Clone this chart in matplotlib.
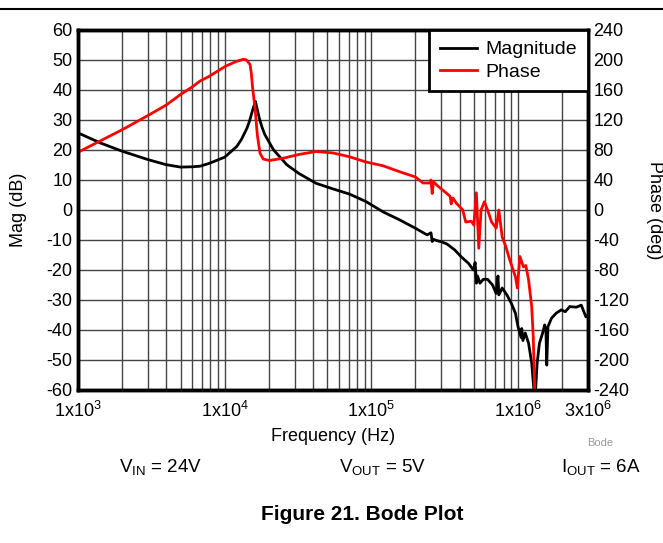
import matplotlib
matplotlib.use("Agg")
import matplotlib.pyplot as plt
from matplotlib.lines import Line2D
from matplotlib.ticker import FixedLocator, LogLocator, NullFormatter

plt.rcParams['font.family'] = ['Liberation Sans', 'DejaVu Sans']
plt.rcParams['mathtext.fontset'] = 'custom'
plt.rcParams['mathtext.rm'] = 'Liberation Sans'
plt.rcParams['mathtext.it'] = 'Liberation Sans:italic'
plt.rcParams['axes.unicode_minus'] = False

# magnitude (dB)
mag_freq = [1.0e3, 1.43e3, 2.0e3, 3.0e3, 4.0e3, 5.0e3, 6.0e3, 6.8e3, 7.8e3, 1.0e4,
            1.21e4, 1.3e4, 1.42e4, 1.48e4, 1.53e4, 1.58e4, 1.62e4, 1.66e4, 1.72e4,
            1.8e4, 1.88e4, 2.15e4, 2.65e4, 3.2e4,
            4.2e4, 5.5e4, 7.1e4, 9.2e4, 1.2e5, 1.56e5, 2.0e5, 2.4e5, 2.55e5, 2.6e5,
            2.65e5, 2.8e5, 3.0e5, 3.27e5, 3.7e5, 4.1e5, 4.6e5, 4.96e5, 5.1e5, 5.2e5,
            5.3e5, 5.5e5, 5.8e5, 6.2e5, 6.7e5, 7.1e5, 7.3e5, 7.4e5, 7.8e5, 8.4e5,
            9.0e5, 9.6e5, 1.0e6, 1.05e6, 1.06e6, 1.08e6, 1.12e6, 1.18e6, 1.24e6,
            1.28e6, 1.32e6, 1.35e6, 1.4e6, 1.47e6, 1.52e6, 1.55e6, 1.57e6, 1.6e6,
            1.69e6, 1.82e6, 1.97e6, 2.1e6, 2.25e6, 2.5e6, 2.7e6, 2.9e6, 3.0e6]
mag_db = [25.7, 22.3, 19.6, 16.8, 15.1, 14.3, 14.4, 14.6, 15.5, 17.6,
          21.2, 23.5, 27.3, 29.8, 32.3, 34.6, 36.2, 34.0, 30.7,
          27.5, 25.1, 20.1, 15.1, 12.2,
          8.9, 7.0, 5.3, 2.8, -0.6, -3.3, -6.1, -8.3, -7.6, -10.5,
          -9.8, -10.2, -10.6, -11.3, -13.3, -15.6, -17.8, -20.0, -17.5, -24.4,
          -22.0, -24.4, -23.1, -23.1, -25.0, -27.8, -22.0, -28.3, -26.0, -28.3,
          -31.1, -34.4, -38.9, -42.5, -39.5, -43.5, -41.0, -44.4, -51.1,
          -59.4, -59.4, -51.0, -44.4, -41.1, -38.3, -40.0, -51.7, -38.9,
          -36.1, -34.4, -33.3, -33.9, -32.2, -32.4, -31.7, -35.6, -35.0]

# phase (deg)
ph_freq = [1.0e3, 2.0e3, 3.0e3, 4.0e3, 5.0e3, 6.0e3, 6.8e3, 7.8e3, 1.02e4, 1.2e4,
           1.34e4, 1.41e4, 1.49e4, 1.52e4, 1.55e4, 1.61e4, 1.67e4, 1.74e4, 1.83e4,
           2.02e4, 2.5e4,
           3.2e4, 4.2e4, 5.5e4, 7.1e4, 9.2e4, 1.2e5, 1.56e5, 2.0e5, 2.25e5, 2.5e5,
           2.55e5, 2.6e5, 2.65e5, 2.8e5, 3.27e5, 3.45e5, 3.5e5, 3.6e5, 3.8e5,
           4.2e5, 4.4e5, 4.8e5, 5.0e5, 5.2e5, 5.4e5, 5.6e5, 5.9e5, 6.2e5, 6.6e5,
           7.1e5, 7.4e5, 7.8e5, 8.2e5, 8.8e5, 9.6e5, 9.9e5, 1.03e6, 1.09e6, 1.13e6,
           1.18e6, 1.24e6, 1.27e6, 1.3e6]
ph_deg = [77, 107, 126, 140, 154, 164, 172, 178, 192, 198,
          201, 200, 194, 182, 163, 136, 100, 76, 68,
          66, 69,
          74, 78, 76, 71, 64, 59, 51, 44, 36, 36,
          40, 22, 38, 33, 22, 18, 8, 16, 9,
          0, -16, -15, -20, 23, -51, 0, 11, 0, -16,
          -24, 0, -36, -47, -67, -89, -104, -62, -76, -74,
          -93, -129, -169, -240]

xticks = [1e3, 1e4, 1e5, 1e6, 3e6]
xticklabels = ['1x10$^3$', '1x10$^4$', '1x10$^5$', '1x10$^6$', '3x10$^6$']
mag_ticks = list(range(-60, 61, 10))
ph_ticks = list(range(-240, 241, 40))

fig = plt.figure(figsize=(6.63, 5.43), dpi=100)
ax = fig.add_axes([78 / 663, 1 - 390 / 543, 510 / 663, 360 / 543])

ax.set_xscale('log')
ax.set_xlim(1e3, 3e6)
ax.set_ylim(-60, 60)
ax.xaxis.set_major_locator(FixedLocator(xticks))
ax.set_xticklabels(xticklabels)
ax.xaxis.set_minor_locator(LogLocator(base=10, subs=range(2, 10), numticks=20))
ax.xaxis.set_minor_formatter(NullFormatter())
ax.set_yticks(mag_ticks)
ax.grid(True, which='both', axis='x', color='#444444', lw=1.0)
ax.grid(True, which='major', axis='y', color='#444444', lw=1.0)
ax.tick_params(which='both', length=0, labelsize=13, pad=4)
ax.tick_params(axis='x', pad=8)
for s in ax.spines.values():
    s.set_linewidth(2.5)

l1, = ax.plot(mag_freq, mag_db, color='black', lw=2, label='Magnitude')

ax2 = ax.twinx()
ax2.set_ylim(-240, 240)
ax2.set_yticks(ph_ticks)
ax2.tick_params(length=0, labelsize=13, pad=4)
for s in ax2.spines.values():
    s.set_linewidth(2.5)
l2, = ax2.plot(ph_freq, ph_deg, color='#ff0000', lw=2, label='Phase')

ax.set_ylabel('Mag (dB)', fontsize=13, labelpad=14)
ax.set_xlabel('Frequency (Hz)', fontsize=13, labelpad=5)
ax2.set_ylabel('Phase (deg)', fontsize=13, rotation=270, labelpad=24)

leg = ax2.legend(handles=[l1, l2], loc='upper right', fontsize=14,
                 fancybox=False, framealpha=1, borderaxespad=0,
                 handlelength=1.9, handletextpad=0.45, labelspacing=0.25,
                 borderpad=0.55)
leg.get_frame().set_edgecolor('black')
leg.get_frame().set_linewidth(2)

fig.add_artist(Line2D([0, 1], [1 - 9 / 543, 1 - 9 / 543], color='black', lw=1.5))
fig.text(600 / 663, 1 - 443 / 543, 'Bode', fontsize=8, color='#999999', ha='center', va='center')
fig.text(160 / 663, 1 - 467 / 543, 'V$_{\\mathrm{IN}}$ = 24V', fontsize=13.5, ha='center', va='center')
fig.text(383 / 663, 1 - 467 / 543, 'V$_{\\mathrm{OUT}}$ = 5V', fontsize=13.5, ha='center', va='center')
fig.text(601 / 663, 1 - 467 / 543, 'I$_{\\mathrm{OUT}}$ = 6A', fontsize=13.5, ha='center', va='center')
fig.text(362 / 663, 1 - 514 / 543, 'Figure 21. Bode Plot', fontsize=15, fontweight='bold',
         ha='center', va='center')

fig.savefig('out.png', dpi=100)
